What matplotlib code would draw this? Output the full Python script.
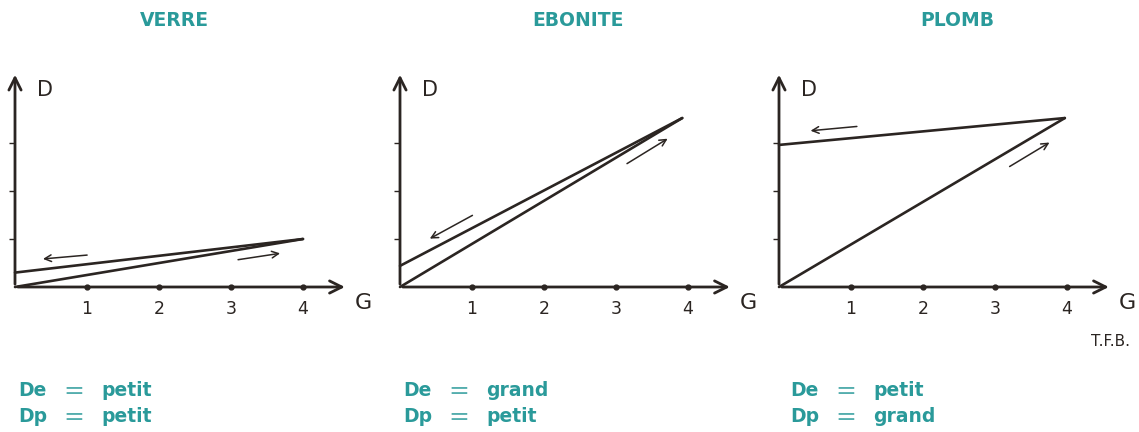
import matplotlib
matplotlib.use('Agg')
import matplotlib.pyplot as plt

# data (G, D)
g_ticks = [1, 2, 3, 4]
d_ticks = [1, 2, 3]
titles = ['VERRE', 'EBONITE', 'PLOMB']

verre_up_g, verre_up_d = [0, 4.0], [0, 1.0]
verre_down_g, verre_down_d = [4.0, 0], [1.0, 0.3]
ebonite_up_g, ebonite_up_d = [0, 3.92], [0, 3.52]
ebonite_down_g, ebonite_down_d = [3.92, 0], [3.52, 0.44]
plomb_up_g, plomb_up_d = [0, 3.97], [0, 3.52]
plomb_down_g, plomb_down_d = [3.97, 0], [3.52, 2.96]

# little direction arrows: (start, end) in G, D units
verre_arrows = [((1.04, 0.67), (0.35, 0.58)), ((3.06, 0.56), (3.72, 0.71))]
ebonite_arrows = [((1.04, 1.52), (0.38, 0.98)), ((3.12, 2.54), (3.75, 3.12))]
plomb_arrows = [((1.12, 3.35), (0.40, 3.25)), ((3.17, 2.48), (3.79, 3.04))]

de_labels = ['petit', 'grand', 'petit']
dp_labels = ['petit', 'petit', 'grand']

W, H = 1139, 432
INK = '#2b2522'
TEAL = '#2a9a9a'

fig = plt.figure(figsize=(W/100, H/100), dpi=100)

def px(x, y):
    return x/W, 1 - y/H

panels = [
    (15, verre_up_g, verre_up_d, verre_down_g, verre_down_d, verre_arrows),
    (400, ebonite_up_g, ebonite_up_d, ebonite_down_g, ebonite_down_d, ebonite_arrows),
    (779, plomb_up_g, plomb_up_d, plomb_down_g, plomb_down_d, plomb_arrows),
]
title_x = [174, 578, 957]
text_x = [18, 403, 790]

xlo, xhi, ylo, yhi = -0.2, 5.0, -0.8, 4.7
gx, gy = 72, 48  # pixels per unit
oy = 287

for i, (ox, ug, ud, dg, dd, arrs) in enumerate(panels):
    left = ox - (-xlo)*gx
    ax = fig.add_axes([left/W, (H - (oy - ylo*gy))/H, (xhi-xlo)*gx/W, (yhi-ylo)*gy/H])
    ax.set_xlim(xlo, xhi)
    ax.set_ylim(ylo, yhi)
    ax.patch.set_alpha(0)
    for s in ['top', 'right']:
        ax.spines[s].set_visible(False)
    for s in ['left', 'bottom']:
        ax.spines[s].set_position(('data', 0))
        ax.spines[s].set_color('none')
    ax.set_xticks(g_ticks)
    ax.set_xticklabels([str(g) for g in g_ticks], fontsize=12.5, color=INK)
    ax.tick_params(axis='x', length=0, pad=9)
    ax.set_yticks(d_ticks)
    ax.set_yticklabels([])
    ax.tick_params(axis='y', length=4, width=1, color=INK, direction='out')

    # axes with open arrow heads
    ax.annotate('', xy=(4.62, 0), xytext=(0, 0),
                arrowprops=dict(arrowstyle='->', color=INK, lw=2, mutation_scale=22))
    ax.annotate('', xy=(0, 4.48), xytext=(0, 0),
                arrowprops=dict(arrowstyle='->', color=INK, lw=2, mutation_scale=22))
    ax.plot(g_ticks, [0]*len(g_ticks), 'o', ms=3.5, color=INK)

    ax.plot(ug, ud, color=INK, lw=1.9, solid_capstyle='round')
    ax.plot(dg, dd, color=INK, lw=1.9, solid_capstyle='round')
    for (s, e) in arrs:
        ax.annotate('', xy=e, xytext=s,
                    arrowprops=dict(arrowstyle='->', color=INK, lw=1.1, mutation_scale=12))

    ax.text(0.3, 4.1, 'D', fontsize=15, color=INK, va='center', ha='left')
    ax.text(4.72, -0.33, 'G', fontsize=16, color=INK, va='center', ha='left')

    fig.text(*px(title_x[i], 21), titles[i], fontsize=13.5, color=TEAL,
             ha='center', va='center', fontweight='bold')
    tx = text_x[i]
    for (lab, word, yy) in [('De', de_labels[i], 390), ('Dp', dp_labels[i], 416)]:
        fig.text(*px(tx, yy), lab, fontsize=13.5, color=TEAL, ha='left', va='center',
                 fontweight='bold')
        fig.text(*px(tx + 56, yy + 1), '=', fontsize=18, color=TEAL, ha='center',
                 va='center', alpha=0.8)
        fig.text(*px(tx + 83, yy), word, fontsize=13.5, color=TEAL, ha='left',
                 va='center', fontweight='bold')

fig.text(*px(1130, 342), 'T.F.B.', fontsize=11, color=INK, ha='right', va='center')

fig.savefig('out.png', dpi=100)
